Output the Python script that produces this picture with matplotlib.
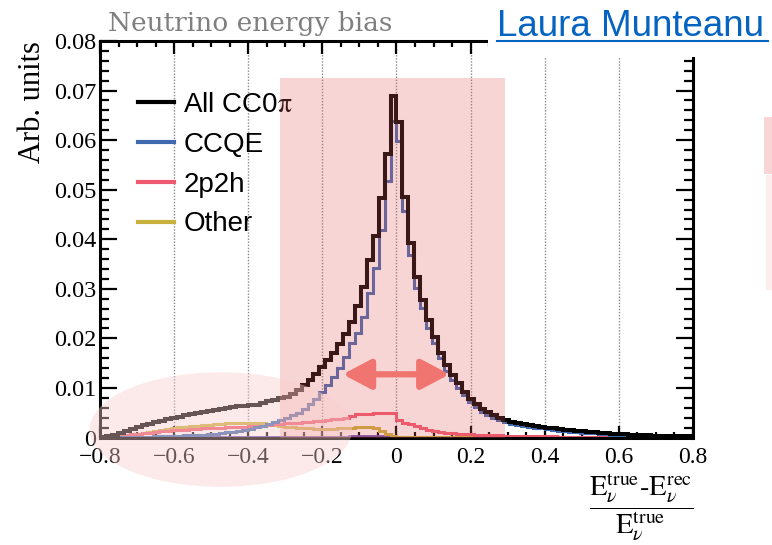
import numpy as np
import matplotlib.pyplot as plt
from matplotlib.patches import Rectangle, Ellipse, FancyArrowPatch
from matplotlib.lines import Line2D

# 100 bins of (E_true - E_rec) / E_true between -0.8 and 0.8
edges = np.linspace(-0.8, 0.8, 101)

all_cc0pi = [
    .0002, .0003, .0006, .0010, .0014, .0018, .0021, .0025, .0028, .0031,
    .0033, .0037, .0040, .0042, .0045, .0047, .0049, .0051, .0053, .0055,
    .0057, .0060, .0061, .0063, .0064, .0065, .0066, .0070, .0073, .0076,
    .0079, .0082, .0088, .0095, .0105, .0116, .0128, .0142, .0157, .0170,
    .0188, .0208, .0234, .0266, .0304, .0358, .0407, .0483, .0571, .0689,
    .0637, .0486, .0393, .0323, .0277, .0237, .0203, .0171, .0146, .0126,
    .0109, .0092, .0078, .0068, .0058, .0051, .0045, .0040, .0036, .0032,
    .0029, .0027, .0025, .0023, .0022, .0020, .0019, .0017, .0016, .0015,
    .0014, .0013, .0012, .0011, .0010, .0009, .0008, .0007, .0007, .0006,
    .0005, .0005, .0005, .0004, .0004, .0004, .0003, .0003, .0003, .0003]

ccqe = [
    .0000, .0000, .0001, .0001, .0001, .0001, .0002, .0002, .0002, .0003,
    .0003, .0003, .0004, .0004, .0005, .0005, .0005, .0006, .0007, .0008,
    .0009, .0011, .0012, .0013, .0015, .0018, .0021, .0024, .0028, .0031,
    .0035, .0040, .0045, .0050, .0058, .0068, .0078, .0092, .0105, .0122,
    .0140, .0163, .0190, .0210, .0244, .0291, .0342, .0419, .0517, .0638,
    .0598, .0456, .0368, .0301, .0261, .0221, .0190, .0160, .0135, .0117,
    .0100, .0085, .0071, .0062, .0052, .0046, .0040, .0035, .0032, .0028,
    .0025, .0023, .0021, .0020, .0019, .0017, .0016, .0014, .0013, .0012,
    .0011, .0010, .0010, .0009, .0008, .0007, .0006, .0006, .0005, .0005,
    .0004, .0004, .0004, .0003, .0003, .0003, .0002, .0002, .0002, .0002]

twop2h = [
    .0001, .0002, .0003, .0004, .0006, .0007, .0008, .0009, .0010, .0011,
    .0013, .0014, .0015, .0016, .0016, .0017, .0018, .0019, .0019, .0020,
    .0020, .0021, .0021, .0022, .0022, .0023, .0024, .0024, .0025, .0027,
    .0028, .0029, .0030, .0030, .0031, .0032, .0033, .0034, .0035, .0037,
    .0038, .0040, .0043, .0047, .0048, .0048, .0049, .0049, .0049, .0049,
    .0035, .0030, .0027, .0023, .0019, .0016, .0014, .0012, .0010, .0009,
    .0008, .0007, .0007, .0006, .0006, .0005, .0005, .0005, .0004, .0004,
    .0004, .0004, .0003, .0003, .0003, .0003, .0003, .0002, .0002, .0002,
    .0002, .0002, .0002, .0002, .0002, .0002, .0002, .0002, .0002, .0002,
    .0001, .0001, .0001, .0001, .0001, .0001, .0001, .0001, .0001, .0001]

other = [
    .0000, .0001, .0002, .0003, .0005, .0007, .0008, .0010, .0011, .0013,
    .0015, .0017, .0019, .0021, .0022, .0023, .0024, .0025, .0026, .0027,
    .0028, .0029, .0029, .0030, .0030, .0030, .0029, .0029, .0028, .0026,
    .0024, .0022, .0021, .0020, .0020, .0019, .0018, .0018, .0018, .0018,
    .0019, .0019, .0020, .0021, .0021, .0021, .0020, .0014, .0008, .0003,
    .0002, .0002, .0002, .0002, .0002, .0002, .0002, .0002, .0002, .0002,
    .0001, .0001, .0001, .0001, .0001, .0001, .0001, .0001, .0001, .0001,
    .0001, .0001, .0001, .0001, .0001, .0001, .0001, .0001, .0001, .0001,
    .0001, .0001, .0001, .0001, .0001, .0001, .0001, .0001, .0001, .0001,
    .0001, .0001, .0001, .0001, .0001, .0001, .0001, .0001, .0001, .0001]

# small unlabelled component near zero
rest = [.0001] * 42 + [.0003] * 8 + [.0001] * 9 + [0.0] * 41

labels = ['All CC0$\\mathrm{\\pi}$', 'CCQE', '2p2h', 'Other']
colors = ['black', '#4169ae', '#ee5a6f', '#c8b03c']

xticks = [-0.8, -0.6, -0.4, -0.2, 0, 0.2, 0.4, 0.6, 0.8]
xtick_labels = ['\u22120.8', '\u22120.6', '\u22120.4', '\u22120.2', '0', '0.2', '0.4', '0.6', '0.8']
yticks = [0, 0.01, 0.02, 0.03, 0.04, 0.05, 0.06, 0.07, 0.08]
ytick_labels = ['0', '0.01', '0.02', '0.03', '0.04', '0.05', '0.06', '0.07', '0.08']

plt.rcParams['font.family'] = ['Liberation Serif', 'DejaVu Serif']
plt.rcParams['mathtext.fontset'] = 'stix'

fig = plt.figure(figsize=(7.72, 5.45), dpi=100)
ax = fig.add_axes([100 / 772, 107.5 / 545, 593 / 772, 396.5 / 545])

ax.stairs(rest, edges, color='#6a4cb0', lw=2.0)
ax.stairs(other, edges, color=colors[3], lw=2.2)
ax.stairs(twop2h, edges, color=colors[2], lw=2.2)
ax.stairs(ccqe, edges, color=colors[1], lw=2.2)
ax.stairs(all_cc0pi, edges, color=colors[0], lw=2.9)

ax.set_xlim(-0.8, 0.8)
ax.set_ylim(0, 0.08)
ax.set_xticks(xticks, xtick_labels)
ax.set_xticks(np.arange(-0.8, 0.801, 0.05), minor=True)
ax.set_yticks(yticks, ytick_labels)
ax.set_yticks(np.arange(0, 0.0801, 0.002), minor=True)
ax.tick_params(which='both', direction='in', top=True, right=True, width=1.6)
ax.tick_params(axis='x', which='major', length=9, pad=7, labelsize=17)
ax.tick_params(axis='x', which='minor', length=4.5)
ax.tick_params(axis='y', which='major', length=12.5, pad=2.5, labelsize=17.5)
ax.tick_params(axis='y', which='minor', length=6.5)
for sp in ax.spines.values():
    sp.set_linewidth(2.2)
ax.set_axisbelow(True)
ax.grid(axis='x', which='major', color='#8a8a8a', linestyle=(0, (1, 1.2)), linewidth=1)

ax.set_ylabel('Arb. units', fontsize=22, loc='top')
ax.yaxis.set_label_coords(-0.089, 1.0)

handles = [Line2D([], [], color=c, lw=3) for c in colors]
ax.legend(handles, labels, loc='upper left', bbox_to_anchor=(0.064, 0.872),
          frameon=False, prop={'family': 'Liberation Sans', 'size': 20},
          handlelength=1.3, handletextpad=0.33, labelspacing=0.5,
          borderpad=0, borderaxespad=0)

# x-axis label as a fraction, lower right
fig.text(694 / 772, 1 - 508 / 545,
         r'$\dfrac{\mathrm{E}_{\nu}^{\mathrm{true}}\text{-}\mathrm{E}_{\nu}^{\mathrm{rec}}}{\mathrm{E}_{\nu}^{\mathrm{true}}}$',
         ha='right', va='center', fontsize=20.5)

# slide overlays
fig.add_artist(Rectangle((-0.315, 0), 0.609, 0.0725, transform=ax.transData,
                         fc=(230 / 255, 96 / 255, 96 / 255), alpha=0.26, lw=0, zorder=5))
fig.add_artist(Ellipse((-0.474, 0.0016), 0.708, 0.0231, transform=ax.transData,
                       fc=(248 / 255, 205 / 255, 205 / 255), alpha=0.42, lw=0, zorder=6))
fig.add_artist(FancyArrowPatch((-0.145, 0.01275), (0.143, 0.01275), transform=ax.transData,
                               arrowstyle='<|-|>,head_length=0.85,head_width=0.45',
                               mutation_scale=20, lw=4.5, color='#f07470',
                               shrinkA=0, shrinkB=0, zorder=7))

fig.add_artist(Rectangle((488 / 772, 1 - 57 / 545), 284 / 772, 57 / 545,
                         transform=fig.transFigure, fc='white', lw=0, zorder=8))
fig.add_artist(Rectangle((764 / 772, 1 - 174 / 545), 8 / 772, 57 / 545,
                         transform=fig.transFigure, fc='#f9d6d5', lw=0, zorder=8))
fig.add_artist(Rectangle((766 / 772, 1 - 290 / 545), 6 / 772, 115 / 545,
                         transform=fig.transFigure, fc='#fdedec', lw=0, zorder=8))

fig.text(108 / 772, 1 - 31 / 545, 'Neutrino energy bias', color='#7f7f7f',
         family='DejaVu Serif', fontsize=19, va='baseline', zorder=9)
fig.text(497 / 772, 1 - 36.5 / 545, 'Laura Munteanu', color='#0563c1',
         family='Liberation Sans', fontsize=26.5, va='baseline', zorder=9)
fig.add_artist(Line2D([497 / 772, 768 / 772], [1 - 40.5 / 545] * 2, transform=fig.transFigure,
                      color='#0563c1', lw=1.5, zorder=9))

plt.savefig('out.png', dpi=100)
